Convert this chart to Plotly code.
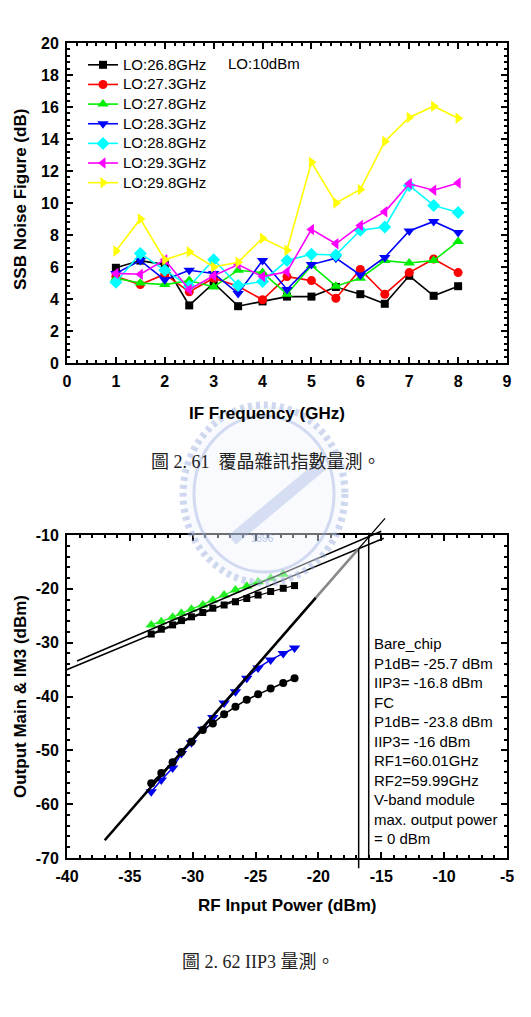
import plotly.graph_objects as go

W, H = 531, 1017

# ---------------- Figure 2.61 : SSB noise figure ----------------
if_freq = [1, 1.5, 2, 2.5, 3, 3.5, 4, 4.5, 5, 5.5, 6, 6.5, 7, 7.5, 8]
nf_lo268 = [5.95, 6.4, 6.15, 3.6, 5.0, 3.55, 3.85, 4.15, 4.15, 4.75, 4.3, 3.7, 5.45, 4.2, 4.8]
nf_lo273 = [5.4, 4.9, 5.55, 4.45, 5.3, 4.8, 3.95, 5.4, 5.15, 4.05, 5.85, 4.3, 5.65, 6.5, 5.65]
nf_lo278 = [5.3, 5.0, 4.9, 5.15, 4.75, 5.8, 5.65, 4.3, 6.1, 4.8, 5.3, 6.4, 6.25, 6.4, 7.6]
nf_lo283 = [5.6, 6.4, 5.2, 5.8, 5.6, 4.35, 6.4, 4.6, 6.15, 6.55, 5.5, 6.6, 8.25, 8.85, 8.15]
nf_lo288 = [5.05, 6.85, 5.8, 4.8, 6.45, 4.85, 5.1, 6.4, 6.8, 6.75, 8.3, 8.5, 11.1, 9.85, 9.4]
nf_lo293 = [5.6, 5.55, 6.45, 4.6, 5.45, 6.15, 5.4, 5.7, 8.35, 7.45, 8.6, 9.45, 11.2, 10.8, 11.25]
nf_lo298 = [7.0, 9.0, 6.45, 6.95, 6.0, 6.3, 7.8, 7.05, 12.55, 10.0, 10.85, 13.85, 15.35, 16.05, 15.3]

lo_names = ["LO:26.8GHz", "LO:27.3GHz", "LO:27.8GHz", "LO:28.3GHz",
            "LO:28.8GHz", "LO:29.3GHz", "LO:29.8GHz"]
lo_series = [nf_lo268, nf_lo273, nf_lo278, nf_lo283, nf_lo288, nf_lo293, nf_lo298]
lo_colors = ["#000000", "#ff0000", "#00ee00", "#0000ff", "#00ffff", "#ff00ff", "#ffff00"]
lo_symbols = ["square", "circle", "triangle-up", "triangle-down", "diamond",
              "triangle-left", "triangle-right"]
lo_sizes = [8, 9, 10, 10, 10, 10, 10]

nf_xticks = [0, 1, 2, 3, 4, 5, 6, 7, 8, 9]
nf_yticks = [0, 2, 4, 6, 8, 10, 12, 14, 16, 18, 20]

# ---------------- Figure 2.62 : IIP3 ----------------
pin = [-33.3, -32.5, -31.6, -30.9, -30.1, -29.2, -28.4, -27.5, -26.6, -25.7, -24.8, -23.8, -22.8, -21.9]
fc_main = [-26.7, -26.1, -25.3, -24.55, -23.8, -23.0, -22.1, -21.15, -20.2, -19.5, -18.7, -18.05, -17.3]
bare_main = [-28.4, -27.5, -26.7, -25.9, -25.2, -24.4, -23.6, -23.0, -22.4, -21.8, -21.15, -20.5, -19.9, -19.4]
fc_im3 = [-57.7, -55.5, -53.3, -50.6, -48.6, -46.1, -43.9, -41.2, -39.1, -36.6, -34.7, -33.2, -32.0, -31.0]
bare_im3 = [-56.1, -54.2, -52.2, -50.3, -48.4, -46.2, -45.0, -43.3, -41.9, -40.6, -39.6, -38.5, -37.5, -36.6]

# extrapolation lines: (x0, y0, x1, y1)
fund_fit_fc = (-39.2, -33.4, -15.0, -9.3)
fund_fit_bare = (-40.1, -35.1, -14.8, -10.6)
im3_fit = (-37.0, -66.7, -14.7, -6.9)
iip3_bare = -16.8
iip3_fc = -16.0

ip_xticks = [-40, -35, -30, -25, -20, -15, -10, -5]
ip_yticks = [-70, -60, -50, -40, -30, -20, -10]
X2_RANGE = [-40, -5]
Y2_RANGE = [-70, -10]

info_lines = ["Bare_chip", "P1dB= -25.7 dBm", "IIP3= -16.8 dBm", "FC",
              "P1dB= -23.8 dBm", "IIP3= -16 dBm", "RF1=60.01GHz", "RF2=59.99GHz",
              "V-band module", "max. output power", "= 0 dBm"]

caption1 = "圖 2. 61  覆晶雜訊指數量測。"
caption2 = "圖 2. 62 IIP3 量測。"

# ---------------- build ----------------
SANS = "Liberation Sans, Arial, sans-serif"
CAP = "Liberation Serif, Noto Sans CJK TC, serif"

fig = go.Figure()

for name, ys, col, sym, sz in zip(lo_names, lo_series, lo_colors, lo_symbols, lo_sizes):
    fig.add_trace(go.Scatter(
        x=if_freq, y=ys, mode="lines+markers", xaxis="x", yaxis="y",
        name="<span style='font-size:15px'>" + name + "</span>",
        line=dict(color=col, width=1.6),
        marker=dict(symbol=sym, size=sz, color=col, line=dict(width=0)),
    ))

fig.add_trace(go.Scatter(x=pin[:len(fc_main)], y=fc_main, mode="lines+markers",
                         xaxis="x2", yaxis="y2", showlegend=False,
                         line=dict(color="#22ee22", width=1.2),
                         marker=dict(symbol="triangle-up", size=10, color="#22ee22")))
fig.add_trace(go.Scatter(x=pin, y=bare_main, mode="lines+markers",
                         xaxis="x2", yaxis="y2", showlegend=False,
                         line=dict(color="black", width=1.2),
                         marker=dict(symbol="square", size=7, color="black")))
fig.add_trace(go.Scatter(x=pin, y=fc_im3, mode="lines+markers",
                         xaxis="x2", yaxis="y2", showlegend=False,
                         line=dict(color="#0000ee", width=1.5),
                         marker=dict(symbol="triangle-down", size=10, color="#0000ee")))
fig.add_trace(go.Scatter(x=pin, y=bare_im3, mode="lines+markers",
                         xaxis="x2", yaxis="y2", showlegend=False,
                         line=dict(color="black", width=1.5),
                         marker=dict(symbol="circle", size=8, color="black")))


def ydom(v):
    return (v - Y2_RANGE[0]) / (Y2_RANGE[1] - Y2_RANGE[0])


def px_x(p):
    return p / W


def px_y(p):
    return 1 - p / H


shapes = []
for (x0, y0, x1, y1), w in [(fund_fit_fc, 1.5), (fund_fit_bare, 1.5)]:
    shapes.append(dict(type="line", xref="x2", yref="y2 domain", x0=x0, x1=x1,
                       y0=ydom(y0), y1=ydom(y1), line=dict(color="black", width=w)))
x0, y0, x1, y1 = im3_fit
slope = (y1 - y0) / (x1 - x0)
xg0, xg1 = -20.2, iip3_bare
shapes.append(dict(type="line", xref="x2", yref="y2 domain", x0=x0, x1=xg0,
                   y0=ydom(y0), y1=ydom(y0 + slope * (xg0 - x0)),
                   line=dict(color="black", width=2.6)))
shapes.append(dict(type="line", xref="x2", yref="y2 domain", x0=xg0, x1=xg1,
                   y0=ydom(y0 + slope * (xg0 - x0)), y1=ydom(y0 + slope * (xg1 - x0)),
                   line=dict(color="#888888", width=2.6)))
shapes.append(dict(type="line", xref="x2", yref="y2 domain", x0=xg1, x1=x1,
                   y0=ydom(y0 + slope * (xg1 - x0)), y1=ydom(y1),
                   line=dict(color="black", width=1.3)))
shapes.append(dict(type="line", xref="x2", yref="y2 domain", x0=iip3_bare, x1=iip3_bare,
                   y0=ydom(y0 + slope * (iip3_bare - x0)), y1=ydom(-71.9),
                   line=dict(color="black", width=1.5)))
shapes.append(dict(type="line", xref="x2", yref="y2 domain", x0=iip3_fc, x1=iip3_fc,
                   y0=ydom(-9.6), y1=ydom(-70),
                   line=dict(color="black", width=1.5)))

# faint university watermark (decorative) drawn over the page
wm = dict(cx=264, cy=494, rx=81, ry=89)
shapes.append(dict(type="circle", xref="paper", yref="paper", layer="above",
                   x0=px_x(wm["cx"] - wm["rx"]), x1=px_x(wm["cx"] + wm["rx"]),
                   y0=px_y(wm["cy"] + wm["ry"]), y1=px_y(wm["cy"] - wm["ry"]),
                   fillcolor="rgba(240,243,250,0.45)",
                   line=dict(color="rgba(150,170,220,0.45)", width=7, dash="4px,4px")))
shapes.append(dict(type="circle", xref="paper", yref="paper", layer="above",
                   x0=px_x(wm["cx"] - wm["rx"] + 11), x1=px_x(wm["cx"] + wm["rx"] - 11),
                   y0=px_y(wm["cy"] + wm["ry"] - 11), y1=px_y(wm["cy"] - wm["ry"] + 11),
                   line=dict(color="rgba(150,170,220,0.40)", width=3)))
shapes.append(dict(type="line", xref="paper", yref="paper", layer="above",
                   x0=px_x(232), x1=px_x(322), y0=px_y(540), y1=px_y(465),
                   line=dict(color="rgba(150,170,220,0.35)", width=12)))

tickfont = dict(family=SANS, size=16, color="black", weight="bold")
common = dict(showline=True, linecolor="black", linewidth=2, mirror="ticks",
              ticks="inside", ticklen=6, tickwidth=2, tickcolor="black",
              showgrid=False, zeroline=False, tickfont=tickfont, tickmode="array",
              automargin=False, ticklabelstandoff=3)

fig.update_layout(
    width=W, height=H, margin=dict(l=0, r=0, t=0, b=0, autoexpand=False),
    paper_bgcolor="white", plot_bgcolor="white",
    xaxis=dict(common, domain=[px_x(67), px_x(507)], range=[0, 9], anchor="y",
               tickvals=nf_xticks, ticktext=[str(v) for v in nf_xticks],
               minor=dict(ticks="inside", ticklen=3, tickwidth=1.5, tickcolor="black",
                          dtick=0.2, tick0=0)),
    yaxis=dict(common, domain=[px_y(363), px_y(43)], range=[0, 20], anchor="x",
               tickvals=nf_yticks, ticktext=[str(v) for v in nf_yticks],
               minor=dict(ticks="inside", ticklen=3, tickwidth=1.5, tickcolor="black",
                          dtick=0.4, tick0=0)),
    xaxis2=dict(common, domain=[px_x(67), px_x(507)], range=X2_RANGE, anchor="y2",
                tickvals=ip_xticks, ticktext=[str(v) for v in ip_xticks],
                minor=dict(ticks="inside", ticklen=3, tickwidth=1.5, tickcolor="black",
                           dtick=1, tick0=-40)),
    yaxis2=dict(common, domain=[px_y(858), px_y(535)], range=Y2_RANGE, anchor="x2",
                tickvals=ip_yticks, ticktext=[str(v) for v in ip_yticks],
                minor=dict(ticks="inside", ticklen=3, tickwidth=1.5, tickcolor="black",
                           dtick=2, tick0=-70)),
    legend=dict(x=px_x(83), y=px_y(50), xanchor="left", yanchor="top",
                bgcolor="rgba(0,0,0,0)", borderwidth=0,
                font=dict(family=SANS, size=12.8, color="black"),
                tracegroupgap=0),
    shapes=shapes,
    showlegend=True,
)

ann = []
ann.append(dict(text="LO:10dBm", x=px_x(226), y=px_y(64), xref="paper", yref="paper",
                xanchor="left", yanchor="middle", showarrow=False,
                font=dict(family=SANS, size=15, color="black")))
ann.append(dict(text="IF Frequency (GHz)", x=px_x(267), y=px_y(413), xref="paper", yref="paper",
                xanchor="center", yanchor="middle", showarrow=False,
                font=dict(family=SANS, size=17, color="black", weight="bold")))
ann.append(dict(text="SSB Noise Figure (dB)", x=px_x(20), y=px_y(200), xref="paper", yref="paper",
                xanchor="center", yanchor="middle", showarrow=False, textangle=-90,
                font=dict(family=SANS, size=17, color="black", weight="bold")))
ann.append(dict(text=caption1, x=px_x(266), y=px_y(462), xref="paper", yref="paper",
                xanchor="center", yanchor="middle", showarrow=False,
                font=dict(family=CAP, size=18, color="#222222")))
ann.append(dict(text="1896", x=px_x(262), y=px_y(538), xref="paper", yref="paper",
                xanchor="center", yanchor="middle", showarrow=False,
                font=dict(family=SANS, size=10, color="rgba(150,170,220,0.7)")))
ann.append(dict(text="RF Input Power (dBm)", x=px_x(287), y=px_y(905), xref="paper", yref="paper",
                xanchor="center", yanchor="middle", showarrow=False,
                font=dict(family=SANS, size=17, color="black", weight="bold")))
ann.append(dict(text="Output Main & IM3 (dBm)", x=px_x(20), y=px_y(697), xref="paper", yref="paper",
                xanchor="center", yanchor="middle", showarrow=False, textangle=-90,
                font=dict(family=SANS, size=17, color="black", weight="bold")))
ann.append(dict(text="<br>".join(info_lines), x=px_x(372), y=px_y(633), xref="paper", yref="paper",
                xanchor="left", yanchor="top", align="left", showarrow=False,
                font=dict(family=SANS, size=15, color="black")))
ann.append(dict(text=caption2, x=px_x(258), y=px_y(962), xref="paper", yref="paper",
                xanchor="center", yanchor="middle", showarrow=False,
                font=dict(family=CAP, size=18, color="#222222")))
fig.update_layout(annotations=ann)

fig.write_html("out.html")
